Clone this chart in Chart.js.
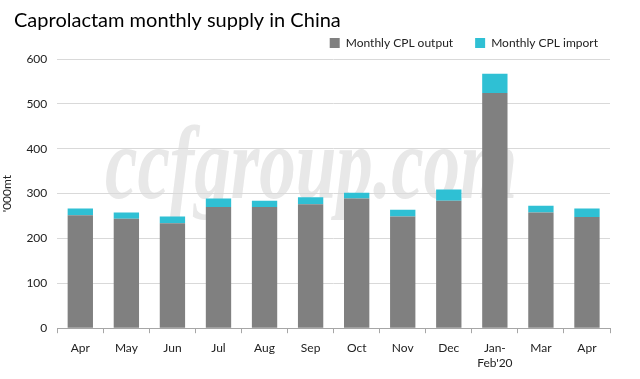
<!DOCTYPE html>
<html>
<head>
<meta charset="utf-8">
<script src="https://cdn.jsdelivr.net/npm/chart.js@4"></script>
<style>
  html, body { margin: 0; padding: 0; background: #fff; }
  #wrap { width: 640px; height: 379px; position: relative; }
</style>
</head>
<body>
<div id="wrap"><canvas id="chart"></canvas></div>
<script>
const months = ['Apr', 'May', 'Jun', 'Jul', 'Aug', 'Sep', 'Oct', 'Nov', 'Dec', ['Jan-', "Feb'20"], 'Mar', 'Apr'];
const cplOutput = [252, 244, 234, 270, 270, 276, 289, 249, 284, 524, 258, 248];
const cplImport = [15, 14, 15, 19, 14, 16, 13, 15, 25, 43, 15, 19];
const yTicks = [0, 100, 200, 300, 400, 500, 600];
const chartTitle = 'Caprolactam monthly supply in China';

const FONT = 'Lato, "Liberation Sans", sans-serif';

// faint site watermark behind grid and bars, plus the title in the top-left corner
const decorations = {
  id: 'decorations',
  afterLayout(chart) {
    // legend sits a little further right than the plot's right edge allows
    chart.legend.left += 10;
    chart.legend.right += 10;
  },
  beforeDraw(chart) {
    const { ctx } = chart;
    const text = 'ccfgroup.com';
    ctx.save();
    ctx.font = 'bold italic 104px "Liberation Serif", "DejaVu Serif", serif';
    ctx.fillStyle = '#e8e8e8';
    ctx.textBaseline = 'alphabetic';
    const w = ctx.measureText(text).width;
    ctx.translate(105, 198);
    ctx.scale(412 / w, 1);
    ctx.fillText(text, 0, 0);
    ctx.restore();
  },
  afterDraw(chart) {
    const { ctx } = chart;
    ctx.save();
    ctx.font = '20px ' + FONT;
    ctx.fillStyle = '#000';
    ctx.textBaseline = 'middle';
    ctx.fillText(chartTitle, 14, 21);
    ctx.restore();
  }
};

new Chart(document.getElementById('chart'), {
  type: 'bar',
  data: {
    labels: months,
    datasets: [
      { label: 'Monthly CPL output', data: cplOutput, backgroundColor: '#808080', barPercentage: 0.55, categoryPercentage: 1 },
      { label: 'Monthly CPL import', data: cplImport, backgroundColor: '#2fc0d4', barPercentage: 0.55, categoryPercentage: 1 }
    ]
  },
  options: {
    responsive: true, maintainAspectRatio: false, animation: false,
    layout: { padding: { left: 0, right: 30, top: 15, bottom: 1 } },
    plugins: {
      legend: {
        align: 'end',
        labels: { boxWidth: 10, boxHeight: 10, color: '#222', font: { family: FONT, size: 12 }, padding: 22 }
      },
      tooltip: { enabled: false }
    },
    scales: {
      x: {
        stacked: true,
        grid: { display: true, offset: true, drawOnChartArea: false, color: '#a6a6a6', tickLength: 5 },
        border: { color: '#a6a6a6' },
        ticks: { color: '#222', font: { family: FONT, size: 12 }, maxRotation: 0, padding: 8 }
      },
      y: {
        stacked: true, min: 0, max: 600,
        afterBuildTicks: (axis) => { axis.ticks = yTicks.map(v => ({ value: v })); },
        title: { display: true, text: "'000mt", color: '#222', font: { family: FONT, size: 12 }, padding: { top: 0, bottom: 2 } },
        grid: { color: '#d9d9d9', drawTicks: false },
        border: { display: false },
        ticks: { color: '#222', font: { family: FONT, size: 12 }, padding: 10 }
      }
    }
  },
  plugins: [decorations]
});
</script>
</body>
</html>
